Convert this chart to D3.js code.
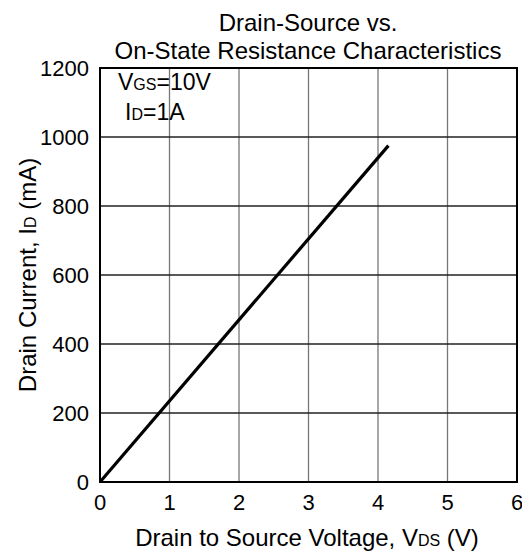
<!DOCTYPE html>
<html>
<head>
<meta charset="utf-8">
<script src="https://cdn.jsdelivr.net/npm/d3@7"></script>
<style>
  body { margin: 0; background: #fff; }
  text { font-family: "Liberation Sans", Arial, sans-serif; fill: #000; }
</style>
</head>
<body>
<svg width="522" height="553"></svg>
<script>
var svg = d3.select('svg');

// data
var vdsTicks = [0, 1, 2, 3, 4, 5, 6];
var idTicks = [0, 200, 400, 600, 800, 1000, 1200];
var vds = [0, 4.15];
var id = [0, 975];

var x = d3.scaleLinear().domain([0, 6]).range([100, 517]);
var y = d3.scaleLinear().domain([0, 1200]).range([482, 68]);

// grid
svg.append('g').selectAll('line').data(vdsTicks.slice(1, -1)).enter().append('line')
    .attr('x1', d => x(d)).attr('x2', d => x(d))
    .attr('y1', y(0)).attr('y2', y(1200))
    .attr('stroke', '#777').attr('stroke-width', 1.3);
svg.append('g').selectAll('line').data(idTicks.slice(1, -1)).enter().append('line')
    .attr('y1', d => y(d)).attr('y2', d => y(d))
    .attr('x1', x(0)).attr('x2', x(6))
    .attr('stroke', '#222').attr('stroke-width', 1.3);

// frame
svg.append('rect').attr('x', x(0)).attr('y', y(1200))
    .attr('width', x(6) - x(0)).attr('height', y(0) - y(1200))
    .attr('fill', 'none').attr('stroke', '#000').attr('stroke-width', 2);

// tick labels
svg.append('g').selectAll('text').data(vdsTicks).enter().append('text')
    .attr('x', d => x(d)).attr('y', 510)
    .attr('text-anchor', 'middle').attr('font-size', '22px')
    .text(d => d);
svg.append('g').selectAll('text').data(idTicks).enter().append('text')
    .attr('x', 89).attr('y', d => y(d) + 8)
    .attr('text-anchor', 'end').attr('font-size', '22px')
    .text(d => d);

// curve
var line = d3.line().x((d, i) => x(vds[i])).y(d => y(d));
svg.append('path').datum(id).attr('d', line)
    .attr('fill', 'none').attr('stroke', '#000').attr('stroke-width', 3.2);

// titles
svg.append('text').attr('x', 308).attr('y', 31).attr('text-anchor', 'middle')
    .attr('font-size', '24px').text('Drain-Source vs.');
svg.append('text').attr('x', 308).attr('y', 59).attr('text-anchor', 'middle')
    .attr('font-size', '24px').text('On-State Resistance Characteristics');

// x label
var xl = svg.append('text').attr('x', 307).attr('y', 546).attr('text-anchor', 'middle')
    .attr('font-size', '24px');
xl.append('tspan').text('Drain to Source Voltage, V');
xl.append('tspan').attr('font-size', '16px').text('DS');
xl.append('tspan').text(' (V)');

// y label
var yl = svg.append('text').attr('transform', 'translate(36,275) rotate(-90)')
    .attr('text-anchor', 'middle').attr('font-size', '24px');
yl.append('tspan').text('Drain Current, I');
yl.append('tspan').attr('font-size', '16px').text('D');
yl.append('tspan').text(' (mA)');

// annotation
var a1 = svg.append('text').attr('x', 118).attr('y', 90).attr('font-size', '23px');
a1.append('tspan').text('V');
a1.append('tspan').attr('font-size', '16px').text('GS');
a1.append('tspan').text('=10V');
var a2 = svg.append('text').attr('x', 125).attr('y', 120).attr('font-size', '23px');
a2.append('tspan').text('I');
a2.append('tspan').attr('font-size', '16px').text('D');
a2.append('tspan').text('=1A');
</script>
</body>
</html>
